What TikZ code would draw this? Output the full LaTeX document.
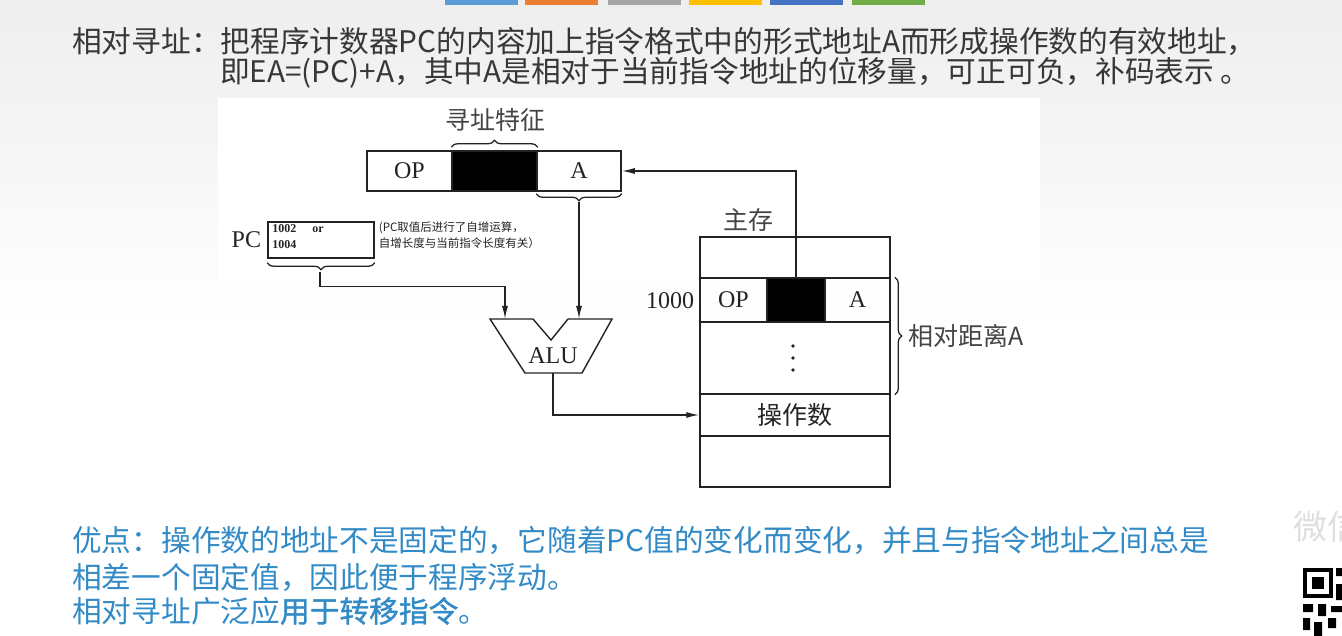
\documentclass[tikz,border=0pt]{standalone}
\usepackage{fontspec}
\usepackage{xcolor}
\usetikzlibrary{positioning,arrows.meta,calc,decorations.pathreplacing}
\newfontfamily\cjk{Noto Sans CJK SC}
\newfontfamily\cjkfat{Noto Sans CJK SC}[FakeBold=1.2]
\newfontfamily\tms{Liberation Serif}
\newcommand{\fs}[1]{\fontsize{#1}{#1}\selectfont}
\definecolor{slidegray}{RGB}{238,238,238}
\definecolor{titletext}{RGB}{55,55,55}
\definecolor{notetext}{RGB}{50,138,198}
\definecolor{wire}{RGB}{35,35,35}
\definecolor{barblue}{RGB}{91,155,213}
\definecolor{barorange}{RGB}{237,125,49}
\definecolor{bargray}{RGB}{165,165,165}
\definecolor{baryellow}{RGB}{255,192,0}
\definecolor{barnavy}{RGB}{68,114,196}
\definecolor{bargreen}{RGB}{112,173,71}
\tikzset{
  cell/.style={draw=wire, line width=1.5pt, inner sep=0pt, minimum height=40pt,
               text=wire, font=\tms\fs{24}},
  blkcell/.style={cell, fill=black},
  memrow/.style={cell, minimum width=190pt},
  wireline/.style={line width=1.4pt, draw=wire},
  wirearrow/.style={wireline, -{Latex[length=13pt,width=6pt]}},
  brc/.style={decorate, decoration={brace, amplitude=7pt}, line width=1.3pt, draw=wire},
  cnlbl/.style={font=\cjk\fs{25}, text=wire!85, inner sep=0pt},
  enlbl/.style={font=\tms\fs{24}, text=wire, inner sep=0pt},
  headline/.style={font=\cjk\fs{29.7}, text=titletext, anchor=west, inner sep=0pt},
  proline/.style={font=\cjk\fs{29.7}, text=notetext, anchor=west, inner sep=0pt}
}
\begin{document}
\begin{tikzpicture}[x=1pt, y=-1pt]
\useasboundingbox (0,0) rectangle (1342,636);
% slide background
\fill[white] (0,0) rectangle (1342,636);
\shade[top color=slidegray, bottom color=white] (0,0) rectangle (1342,330);
\fill[white] (218,98) rectangle (1040,282);
\foreach \xb/\bc in {445/barblue, 525/barorange, 608/bargray, 689/baryellow, 770/barnavy, 852/bargreen}
  \fill[\bc] (\xb,0) rectangle ++(73,5);

% heading
\node[headline] (head1) at (72,42) {相对寻址：把程序计数器PC的内容加上指令格式中的形式地址A而形成操作数的有效地址，};
\node[headline] (head2) at (220,73) {即EA=(PC)+A，其中A是相对于当前指令地址的位移量，可正可负，补码表示 。};

% instruction
\node[cell, minimum width=85pt] (iop) at (409.5,171) {OP};
\node[blkcell, minimum width=85pt] (imode) at (494.5,171) {};
\node[cell, minimum width=84pt] (ia) at (579,171) {A};
\draw[brc, decoration={raise=3pt}] (imode.north west) -- (imode.north east);
\node[cnlbl] (modelbl) at (495,120) {寻址特征};
\draw[brc, decoration={raise=2pt}] (ia.south east) -- (ia.south west);

% PC
\node[cell, minimum width=106pt, minimum height=36pt] (pc) at (321,240) {};
\node[enlbl, left=6pt of pc] (pclbl) {PC};
\node[font=\tms\bfseries\fontsize{12}{16}\selectfont, text=wire, anchor=north west, align=left, inner sep=0pt]
  (pcval) at ($(pc.north west)+(5,3)$) {1002\hspace{16pt}or\\1004};
\node[font=\cjk\fontsize{11.5}{16}\selectfont, text=wire, anchor=north west, align=left, inner sep=0pt]
  (pcnote) at ($(pc.north east)+(4,0)$) {(PC取值后进行了自增运算，\\自增长度与当前指令长度有关）};
\draw[brc, decoration={raise=4pt}] (pc.south east) -- (pc.south west);

% ALU
\coordinate (alul) at (505,319);
\coordinate (alur) at (579,319);
\coordinate (aluo) at (553,373);
\draw[wireline, line join=miter] (490,319) -- (533,319) -- (551,340) -- (568,319) -- (612,319)
  -- (582,373) -- (525,373) -- cycle;
\node[enlbl] (alu) at (553,356) {ALU};

% main memory
\node[memrow, minimum height=41pt] (m0) at (795,257.5) {};
\node[cell, minimum width=67pt, minimum height=44pt] (mop) at (733.5,300) {OP};
\node[blkcell, minimum width=58pt, minimum height=44pt] (mmode) at (796,300) {};
\node[cell, minimum width=65pt, minimum height=44pt] (ma) at (857.5,300) {A};
\node[memrow, minimum height=72pt] (mdots) at (795,358) {};
\node[memrow, minimum height=42pt, font=\cjk\fs{25}] (mdata) at (795,415) {操作数};
\node[memrow, minimum height=51pt] (m5) at (795,461.5) {};
\foreach \dy in {-12,0,12}
  \fill[wire] ($(mdots.center)+(-2,\dy)$) circle (1.8pt);
\node[cnlbl] (memlbl) at (748,220) {主存};
\node[enlbl, anchor=east] (addr) at ($(mop.west)+(-5,1)$) {1000};
\draw[brc, decoration={raise=4pt}] (ma.north east) -- (mdots.south east);
\node[cnlbl, anchor=west] (distlbl) at ($(ma.north east)!0.5!(mdots.south east)+(18,0)$) {相对距离A};

% connectors
\draw[wirearrow] ($(ia.south)+(0,10)$) -- (alur);
\draw[wirearrow] ($(pc.south)+(-1,13)$) -- ++(0,15) -| (alul);
\draw[wirearrow] (aluo) |- (mdata.west);
\draw[wirearrow] (mmode.north) |- (ia.east);

% advantages
\node[proline] (pro1) at (72,540) {优点：操作数的地址不是固定的，它随着PC值的变化而变化，并且与指令地址之间总是};
\node[proline] (pro2) at (72,578) {相差一个固定值，因此便于程序浮动。};
\node[proline] (pro3) at (72,611) {相对寻址广泛应{\cjkfat 用于转移指令}。};

% watermark corner
\begin{scope}
\clip (0,0) rectangle (1342,636);
\node[font=\cjk\fs{34}, text=gray!25, anchor=west, inner sep=0pt] (wx) at (1293,527) {微信};
\fill[white] (1296,558) rectangle (1350,640);
\fill[black] (1303,568) rectangle (1333,598);
\fill[white] (1307,572) rectangle (1329,594);
\fill[black] (1312,577) rectangle (1324,589);
\fill[black] (1336,568) rectangle (1342,576) (1336,584) rectangle (1342,600)
  (1303,604) rectangle (1313,612) (1318,604) rectangle (1326,616) (1331,606) rectangle (1342,612)
  (1303,618) rectangle (1310,630) (1314,622) rectangle (1322,636) (1328,618) rectangle (1336,628);
\end{scope}
\end{tikzpicture}
\end{document}
